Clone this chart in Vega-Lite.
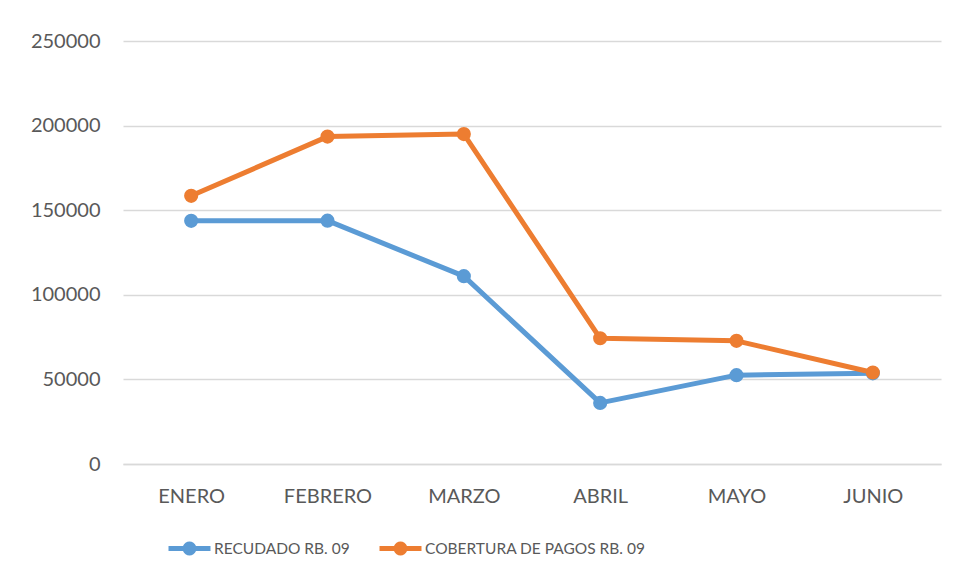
{
  "$schema": "https://vega.github.io/schema/vega-lite/v6.json",
  "width": 818,
  "height": 423,
  "autosize": {"type": "none"},
  "padding": {"left": 123, "top": 41, "right": 13, "bottom": 116},
  "background": "white",
  "data": {
    "values": [
      {"mes": "ENERO", "serie": "RECUDADO RB. 09", "valor": 143700},
      {"mes": "FEBRERO", "serie": "RECUDADO RB. 09", "valor": 143800},
      {"mes": "MARZO", "serie": "RECUDADO RB. 09", "valor": 111000},
      {"mes": "ABRIL", "serie": "RECUDADO RB. 09", "valor": 36100},
      {"mes": "MAYO", "serie": "RECUDADO RB. 09", "valor": 52500},
      {"mes": "JUNIO", "serie": "RECUDADO RB. 09", "valor": 53600},
      {"mes": "ENERO", "serie": "COBERTURA DE PAGOS RB. 09", "valor": 158500},
      {"mes": "FEBRERO", "serie": "COBERTURA DE PAGOS RB. 09", "valor": 193500},
      {"mes": "MARZO", "serie": "COBERTURA DE PAGOS RB. 09", "valor": 195000},
      {"mes": "ABRIL", "serie": "COBERTURA DE PAGOS RB. 09", "valor": 74300},
      {"mes": "MAYO", "serie": "COBERTURA DE PAGOS RB. 09", "valor": 72800},
      {"mes": "JUNIO", "serie": "COBERTURA DE PAGOS RB. 09", "valor": 54100}
    ]
  },
  "encoding": {
    "x": {
      "field": "mes",
      "type": "ordinal",
      "sort": ["ENERO", "FEBRERO", "MARZO", "ABRIL", "MAYO", "JUNIO"],
      "scale": {"type": "point", "padding": 0.5},
      "axis": {
        "title": null,
        "labelAngle": 0,
        "ticks": false,
        "domain": true,
        "domainColor": "#d9d9d9",
        "domainWidth": 1.3,
        "labelPadding": 22,
        "labelFont": "Lato",
        "labelFontSize": 20,
        "labelColor": "#595959",
        "grid": false
      }
    },
    "y": {
      "field": "valor",
      "type": "quantitative",
      "scale": {"domain": [0, 250000], "nice": false},
      "axis": {
        "title": null,
        "values": [0, 50000, 100000, 150000, 200000, 250000],
        "format": "d",
        "ticks": false,
        "domain": false,
        "labelPadding": 23,
        "labelFont": "Lato",
        "labelFontSize": 20,
        "labelColor": "#595959",
        "grid": true,
        "gridColor": "#d9d9d9",
        "gridWidth": 1.3
      }
    },
    "color": {
      "field": "serie",
      "type": "nominal",
      "sort": ["RECUDADO RB. 09", "COBERTURA DE PAGOS RB. 09"],
      "scale": {
        "domain": ["RECUDADO RB. 09", "COBERTURA DE PAGOS RB. 09"],
        "range": ["#5B9BD5", "#ED7D31"]
      },
      "legend": {
        "title": null,
        "orient": "none",
        "direction": "horizontal",
        "legendX": 58,
        "legendY": 499,
        "symbolType": "M-2.5,-0.3L-0.774,-0.3A0.83,0.83,0,0,1,0.774,-0.3L2.5,-0.3L2.5,0.3L0.774,0.3A0.83,0.83,0,0,1,-0.774,0.3L-2.5,0.3Z",
        "symbolSize": 282,
        "symbolStrokeWidth": 0,
        "symbolOpacity": 1,
        "labelOffset": 16,
        "columnPadding": 29,
        "labelFont": "Lato",
        "labelFontSize": 15.5,
        "labelColor": "#595959",
        "labelLimit": 400
      }
    }
  },
  "layer": [
    {
      "mark": {"type": "line", "strokeWidth": 5, "strokeJoin": "round", "strokeCap": "round"}
    },
    {
      "mark": {"type": "point", "filled": true, "opacity": 1, "size": 200, "shape": "circle"}
    }
  ],
  "config": {
    "view": {"stroke": null}
  }
}
